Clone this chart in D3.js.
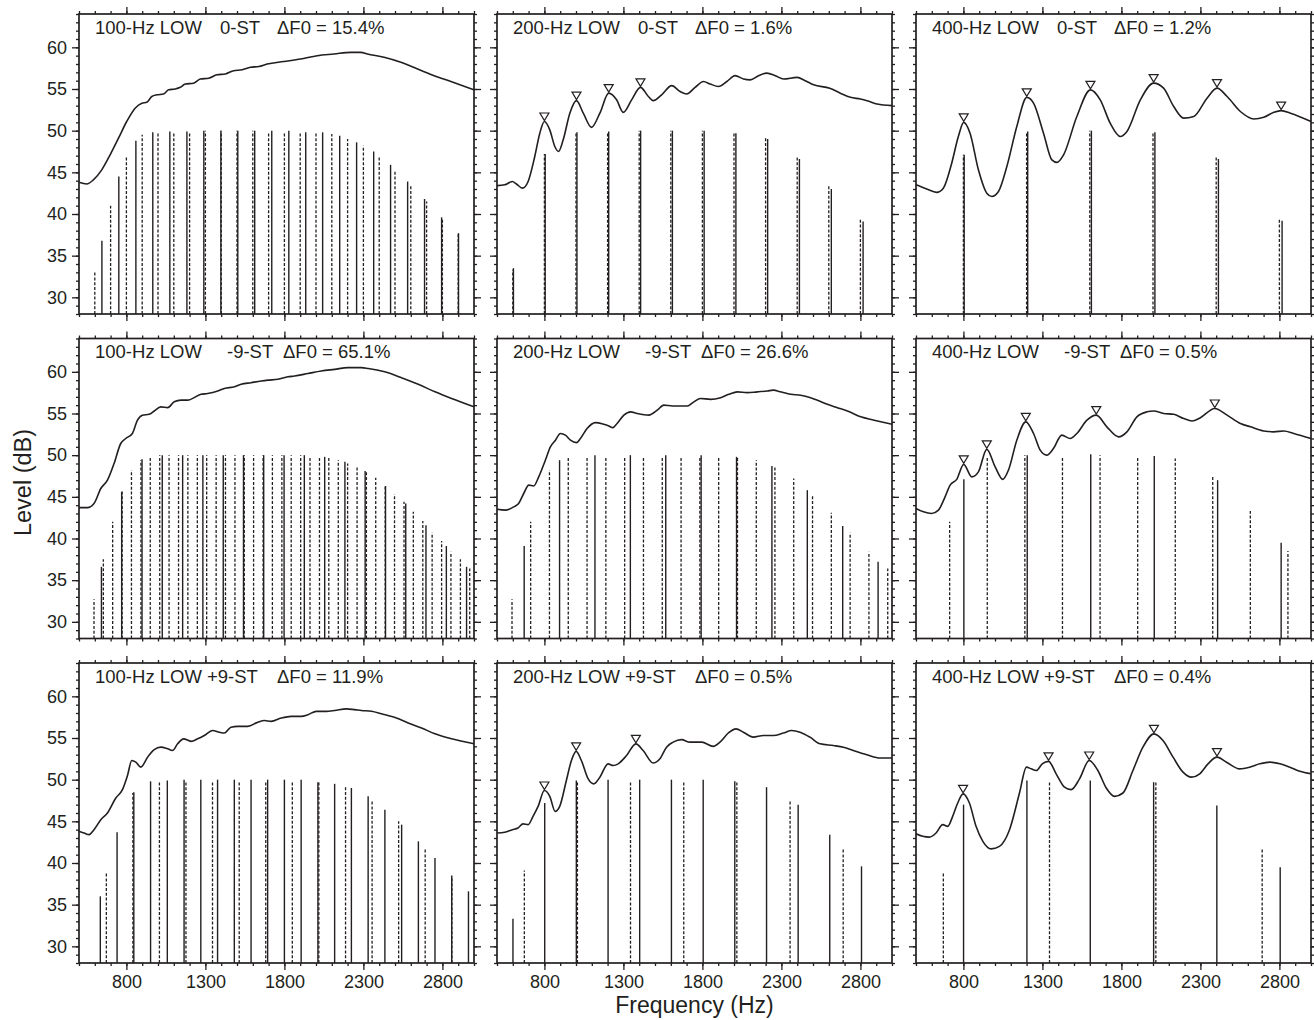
<!DOCTYPE html>
<html>
<head>
<meta charset="utf-8">
<script src="https://cdn.jsdelivr.net/npm/d3@7"></script>
<style>
  body { margin: 0; background: #fff; }
  svg { font-family: "Liberation Sans", Arial, Helvetica, sans-serif; }
</style>
</head>
<body>
<div id="chart"></div>
<script>
// ---- data: [frequency Hz, level dB] ----

// row 1: 0-ST
var p1Solid = [[645,36.8],[752,44.5],[860,48.8],[967,49.8],[1075,49.9],[1183,49.9],[1290,50],[1398,50],[1505,50],[1612,50],[1720,50],[1828,50],[1935,49.8],[2042,49.8],[2150,49.4],[2257,48.6],[2365,47.5],[2472,45.9],[2580,43.9],[2687,41.8],[2795,39.6],[2902,37.7]]
var p1Dashed = [[600,33.0],[700,41.0],[800,46.9],[900,49.5],[1000,49.8],[1100,49.8],[1200,49.8],[1300,50],[1400,50],[1500,50],[1600,50],[1700,49.8],[1800,49.8],[1900,49.8],[2000,49.8],[2100,49.6],[2200,49.0],[2300,48.2],[2400,46.9],[2500,45.2],[2600,43.5],[2700,41.5],[2800,39.5],[2900,37.6]]
var p1Curve = [[500,43.8],[549,43.6],[591,44.1],[644,45.3],[697,47.1],[750,49.1],[802,51.1],[855,52.7],[898,53.3],[929,53.4],[961,54.1],[993,54.3],[1035,54.4],[1067,54.9],[1109,55.0],[1141,55.2],[1173,55.6],[1225,55.7],[1268,56.2],[1321,56.3],[1373,56.7],[1426,56.8],[1479,57.2],[1532,57.3],[1585,57.6],[1638,57.7],[1691,58.0],[1796,58.3],[1902,58.6],[2008,59.0],[2114,59.2],[2220,59.4],[2283,59.4],[2325,59.2],[2431,58.8],[2537,58.2],[2643,57.4],[2748,56.6],[2854,55.9],[3000,54.9]]
var p1Peaks = []

var p2Solid = [[604,33.5],[805,47.2],[1006,49.8],[1207,49.9],[1409,50],[1610,50],[1811,50],[2012,49.7],[2213,49.0],[2414,46.6],[2616,43.0],[2817,39.1]]
var p2Dashed = [[600,33.3],[800,47.2],[1000,49.8],[1200,49.9],[1400,50],[1600,50],[1800,50],[2000,49.8],[2200,49.1],[2400,46.9],[2600,43.4],[2800,39.5]]
var p2Curve = [[500,43.4],[549,43.5],[597,43.9],[623,43.6],[661,43.1],[697,43.9],[739,46.9],[771,49.7],[800,51.1],[834,50.1],[866,48.1],[889,47.5],[919,48.9],[961,52.1],[1003,53.6],[1046,52.1],[1098,50.4],[1151,52.1],[1207,54.5],[1257,53.7],[1299,52.2],[1352,53.7],[1408,55.2],[1458,54.1],[1489,53.6],[1542,54.3],[1606,55.4],[1659,54.7],[1701,54.4],[1754,55.2],[1807,55.9],[1849,55.6],[1902,55.3],[1955,55.9],[2007,56.6],[2060,56.2],[2103,56.1],[2155,56.6],[2208,56.9],[2261,56.6],[2314,56.2],[2399,56.4],[2451,56.0],[2504,55.5],[2606,55.1],[2673,54.5],[2737,54.0],[2800,53.8],[2842,53.6],[2906,53.2],[3000,53.0]]
var p2Peaks = [[800,51.1],[1003,53.6],[1207,54.5],[1408,55.2]]

var p3Solid = [[805,47.1],[1207,49.9],[1610,50],[2012,49.8],[2414,46.6],[2817,39.2]]
var p3Dashed = [[800,47.1],[1200,49.9],[1600,50],[2000,49.8],[2400,46.9],[2800,39.5]]
var p3Curve = [[500,43.5],[568,43.0],[631,42.6],[673,43.1],[726,46.1],[768,49.3],[802,51.0],[842,49.7],[895,45.3],[948,42.5],[980,42.1],[1022,42.7],[1075,45.7],[1138,50.5],[1201,54.0],[1244,53.3],[1307,49.7],[1360,46.5],[1392,46.2],[1434,47.1],[1518,51.7],[1604,54.9],[1666,53.7],[1729,50.9],[1793,49.3],[1835,49.9],[1920,53.7],[2004,55.7],[2067,55.1],[2131,52.9],[2194,51.5],[2258,51.7],[2342,53.9],[2405,55.1],[2469,54.1],[2553,52.3],[2638,51.4],[2701,51.6],[2765,52.2],[2811,52.4],[2870,52.1],[3000,51.1]]
var p3Peaks = [[802,51.0],[1201,54.0],[1604,54.9],[2004,55.7],[2405,55.1],[2811,52.4]]

// row 2: -9-ST
var p4Solid = [[642,36.6],[770,45.6],[899,49.5],[1027,50],[1156,50],[1284,50],[1413,50],[1541,50],[1669,50],[1798,50],[1926,50],[2055,49.8],[2183,49.2],[2311,48.1],[2440,46.3],[2568,44.2],[2696,41.6],[2825,39.1],[2953,36.6]]
var p4Dashed = [[595,32.7],[654,37.5],[713,42.0],[773,45.8],[832,48.2],[892,49.4],[951,49.8],[1011,50],[1070,50],[1130,50],[1189,50],[1249,50],[1308,50],[1368,50],[1427,50],[1487,50],[1546,50],[1605,50],[1665,50],[1724,50],[1784,50],[1843,50],[1903,50],[1962,49.9],[2022,49.9],[2081,49.7],[2141,49.4],[2200,49.0],[2260,48.7],[2319,48.0],[2378,47.3],[2438,46.4],[2497,45.3],[2557,44.4],[2616,43.2],[2676,42.1],[2735,40.7],[2795,39.7],[2854,38.4],[2914,37.5],[2973,36.4]]
var p4Curve = [[500,43.7],[553,43.7],[595,44.2],[638,46.0],[680,47.0],[722,49.0],[764,51.4],[796,52.0],[838,52.6],[870,54.2],[902,54.8],[944,54.9],[976,55.3],[1018,55.8],[1061,55.7],[1103,56.4],[1145,56.6],[1187,56.6],[1272,57.3],[1314,57.4],[1378,57.7],[1420,58.0],[1484,58.2],[1526,58.5],[1589,58.7],[1653,58.9],[1695,59.0],[1759,59.1],[1822,59.4],[1864,59.5],[1949,59.8],[2033,60.1],[2118,60.3],[2203,60.5],[2287,60.5],[2330,60.4],[2435,60.0],[2541,59.3],[2647,58.5],[2753,57.6],[2858,56.8],[3000,55.8]]
var p4Peaks = []

var p5Solid = [[672,39.1],[896,49.4],[1120,50],[1344,50],[1568,50],[1792,50],[2016,49.8],[2240,48.7],[2464,45.8],[2688,41.5],[2912,37.2]]
var p5Dashed = [[595,32.7],[713,42.0],[832,48.2],[951,49.8],[1070,49.8],[1189,49.8],[1308,49.8],[1427,49.8],[1546,49.8],[1665,49.8],[1784,49.9],[1903,49.8],[2022,49.8],[2141,49.4],[2259,48.6],[2378,47.2],[2497,45.2],[2616,43.1],[2735,40.7],[2854,38.4],[2973,36.4]]
var p5Curve = [[500,43.5],[553,43.4],[606,43.8],[637,44.2],[669,45.4],[701,46.4],[732,46.3],[764,47.4],[806,49.4],[838,51.0],[870,51.8],[901,52.6],[933,52.4],[965,51.8],[1003,51.5],[1028,52.0],[1070,53.2],[1123,53.9],[1176,53.7],[1208,53.5],[1233,53.3],[1260,53.8],[1303,54.8],[1345,55.2],[1387,55.0],[1461,54.8],[1514,55.4],[1556,56.0],[1609,55.9],[1704,55.9],[1746,56.4],[1788,56.8],[1852,56.7],[1915,56.9],[1968,57.3],[2021,57.6],[2084,57.5],[2147,57.6],[2211,57.7],[2249,57.8],[2295,57.6],[2359,57.3],[2422,57.2],[2485,56.9],[2528,56.6],[2591,56.1],[2654,55.7],[2718,55.3],[2802,54.6],[2887,54.2],[3000,53.7]]
var p5Peaks = []

var p6Solid = [[803,47.1],[1204,50],[1606,50.1],[2008,49.9],[2409,47.0],[2811,39.5]]
var p6Dashed = [[713,42.0],[951,49.8],[1189,50],[1427,49.9],[1665,50],[1903,49.9],[2141,49.6],[2378,47.4],[2616,43.3],[2854,38.5]]
var p6Curve = [[500,43.6],[547,43.2],[599,43.0],[642,43.4],[684,45.0],[716,46.4],[758,47.1],[802,48.9],[853,47.4],[895,48.0],[948,50.7],[1001,48.6],[1049,47.1],[1085,48.2],[1138,51.8],[1195,54.0],[1244,52.6],[1286,50.6],[1328,50.0],[1370,50.8],[1423,52.4],[1476,52.0],[1518,52.6],[1582,54.2],[1641,54.8],[1708,53.4],[1782,52.2],[1835,52.8],[1898,54.6],[1962,55.2],[2004,55.3],[2067,55.0],[2131,54.9],[2194,54.4],[2247,54.1],[2300,54.5],[2391,55.6],[2469,54.8],[2553,53.8],[2617,53.4],[2701,52.9],[2765,52.8],[2828,52.9],[2891,52.6],[3000,52.0]]
var p6Peaks = [[802,48.9],[948,50.7],[1195,54.0],[1641,54.8],[2391,55.6]]

// row 3: +9-ST
var p7Solid = [[635,36.0],[741,43.7],[847,48.5],[953,49.8],[1059,49.9],[1165,50],[1271,50],[1377,50],[1483,50],[1589,50],[1694,50],[1800,50],[1906,50],[2012,49.7],[2118,49.5],[2224,49.0],[2330,48.0],[2436,46.4],[2542,44.6],[2648,42.6],[2753,40.6],[2859,38.5],[2965,36.6]]
var p7Dashed = [[673,38.9],[841,48.4],[1009,49.7],[1177,49.8],[1345,49.8],[1514,49.8],[1682,49.8],[1850,49.8],[2018,49.7],[2187,49.1],[2355,47.4],[2523,45.0],[2691,41.7],[2860,38.4]]
var p7Curve = [[500,43.8],[532,43.6],[564,43.4],[595,44.0],[638,45.2],[680,46.0],[733,47.8],[775,48.8],[807,50.5],[834,52.3],[860,52.1],[891,51.5],[934,52.7],[976,53.6],[1018,53.9],[1061,53.7],[1092,53.5],[1124,54.3],[1162,54.9],[1209,54.6],[1251,54.9],[1293,55.3],[1346,55.9],[1388,55.7],[1420,55.6],[1462,56.3],[1505,56.4],[1568,56.4],[1632,56.9],[1674,57.1],[1716,57.0],[1780,57.4],[1843,57.6],[1907,57.6],[1949,57.8],[2002,58.2],[2065,58.2],[2118,58.3],[2192,58.5],[2245,58.4],[2287,58.3],[2351,58.2],[2414,57.9],[2509,57.4],[2583,56.8],[2668,56.2],[2753,55.5],[2858,54.9],[3000,54.3]]
var p7Peaks = []

var p8Solid = [[601,33.3],[802,47.2],[1002,49.9],[1203,50],[1403,50],[1604,50],[1805,50],[2005,49.8],[2206,49.1],[2406,47.0],[2606,43.4],[2807,39.6]]
var p8Dashed = [[673,39.1],[1009,49.8],[1345,49.8],[1682,49.8],[2018,49.8],[2355,47.6],[2691,41.8]]
var p8Curve = [[500,43.6],[549,43.7],[597,44.0],[633,44.2],[665,44.7],[697,44.6],[728,45.6],[760,46.8],[800,48.7],[834,48.0],[868,46.2],[897,46.8],[939,49.9],[971,52.3],[1001,53.4],[1034,52.3],[1077,50.1],[1113,49.5],[1151,50.3],[1203,51.9],[1235,51.7],[1267,51.9],[1320,52.9],[1379,54.3],[1425,53.5],[1489,52.0],[1531,52.5],[1573,53.9],[1615,54.5],[1668,54.8],[1721,54.5],[1795,54.5],[1869,54.0],[1911,54.5],[1964,55.6],[2013,56.1],[2059,55.7],[2122,55.1],[2186,55.3],[2249,55.3],[2313,55.6],[2365,55.9],[2418,55.7],[2481,55.1],[2545,54.3],[2629,54.1],[2693,53.9],[2756,53.5],[2841,53.0],[2925,52.6],[3000,52.6]]
var p8Peaks = [[800,48.7],[1001,53.4],[1379,54.3]]

var p9Solid = [[801,47.0],[1202,49.9],[1603,49.9],[2004,49.7],[2404,46.9],[2805,39.5]]
var p9Dashed = [[673,38.9],[1345,49.7],[2018,49.7],[2691,41.7]]
var p9Curve = [[500,43.5],[542,43.2],[585,43.1],[627,43.6],[669,44.6],[701,44.4],[732,45.6],[764,47.2],[798,48.3],[838,47.2],[880,44.4],[923,42.6],[975,41.7],[1028,42.0],[1092,44.0],[1155,48.4],[1199,51.5],[1229,51.3],[1261,51.1],[1299,51.9],[1339,52.2],[1387,50.7],[1440,49.1],[1482,48.8],[1535,50.1],[1596,52.3],[1651,51.1],[1704,49.0],[1757,48.0],[1810,48.4],[1873,51.1],[1936,53.9],[2006,55.5],[2063,54.7],[2127,52.7],[2190,50.9],[2243,50.3],[2296,50.7],[2348,51.9],[2405,52.7],[2465,52.1],[2549,51.3],[2612,51.5],[2676,51.9],[2739,52.1],[2803,51.9],[2866,51.5],[2929,51.0],[3000,50.7]]
var p9Peaks = [[798,48.3],[1339,52.2],[1596,52.3],[2006,55.5],[2405,52.7]]

// labels
var lowLabels = ['100-Hz LOW', '200-Hz LOW', '400-Hz LOW']
var stLabels = ['0-ST', '-9-ST', '+9-ST']
var dF0Labels = ['15.4%', '1.6%', '1.2%', '65.1%', '26.6%', '0.5%', '11.9%', '0.5%', '0.4%']
var xMajorTicks = [800, 1300, 1800, 2300, 2800]
var yMajorTicks = [30, 35, 40, 45, 50, 55, 60]

// ---- layout ----
var width = 1314, height = 1020
var colX = [79, 497, 916], rowY = [14, 338.5, 663]
var pw = 395, ph = 300
var ink = '#231f20'
// title column offsets per row (middle field, dF0 field)
var stOffset = [141, 148, 128]
var dfOffset = [198, 204, 198]

var panels = [
  {solid: p1Solid, dashed: p1Dashed, curve: p1Curve, peaks: p1Peaks},
  {solid: p2Solid, dashed: p2Dashed, curve: p2Curve, peaks: p2Peaks},
  {solid: p3Solid, dashed: p3Dashed, curve: p3Curve, peaks: p3Peaks},
  {solid: p4Solid, dashed: p4Dashed, curve: p4Curve, peaks: p4Peaks},
  {solid: p5Solid, dashed: p5Dashed, curve: p5Curve, peaks: p5Peaks},
  {solid: p6Solid, dashed: p6Dashed, curve: p6Curve, peaks: p6Peaks},
  {solid: p7Solid, dashed: p7Dashed, curve: p7Curve, peaks: p7Peaks},
  {solid: p8Solid, dashed: p8Dashed, curve: p8Curve, peaks: p8Peaks},
  {solid: p9Solid, dashed: p9Dashed, curve: p9Curve, peaks: p9Peaks}
]

var svg = d3.select('#chart')
  .append('svg')
  .attr('width', width)
  .attr('height', height)

var xScale = d3.scaleLinear().domain([500, 3000]).range([0, pw])
var yScale = d3.scaleLinear().domain([28, 64]).range([ph, 0])

var xMinor = d3.range(500, 3001, 100)
var yMinor = d3.range(28, 65, 1)

var line = d3.line()
  .x(d => xScale(d[0]))
  .y(d => yScale(d[1]))
  .curve(d3.curveMonotoneX)

function styleAxis(sel) {
  sel.attr('font-family', null).attr('font-size', null)
  sel.select('.domain').remove()
  sel.selectAll('.tick line').attr('stroke', ink).attr('stroke-width', 1.3)
  sel.selectAll('.tick text').attr('fill', ink).style('font-size', '18px')
}

function addAxis(g, axisFn, scale, transform, minor, major, showLabels) {
  g.append('g')
    .attr('transform', transform)
    .call(axisFn(scale).tickValues(minor).tickSize(3).tickFormat(''))
    .call(styleAxis)
  g.append('g')
    .attr('transform', transform)
    .call(axisFn(scale).tickValues(major).tickSize(7).tickPadding(showLabels ? 5 : 0)
      .tickFormat(showLabels ? d3.format('d') : ''))
    .call(styleAxis)
}

panels.forEach(function(p, i) {
  var row = Math.floor(i / 3), col = i % 3
  var g = svg.append('g')
    .attr('transform', `translate(${colX[col]},${rowY[row]})`)

  // axes, ticks pointing outward on all four sides
  addAxis(g, d3.axisLeft, yScale, 'translate(0,0)', yMinor, yMajorTicks, col === 0)
  addAxis(g, d3.axisRight, yScale, `translate(${pw},0)`, yMinor, yMajorTicks, false)
  addAxis(g, d3.axisTop, xScale, 'translate(0,0)', xMinor, xMajorTicks, false)
  addAxis(g, d3.axisBottom, xScale, `translate(0,${ph})`, xMinor, xMajorTicks, row === 2)

  // harmonic lines
  g.append('g').selectAll('line')
    .data(p.solid)
    .join('line')
    .attr('x1', d => xScale(d[0]))
    .attr('x2', d => xScale(d[0]))
    .attr('y1', ph)
    .attr('y2', d => yScale(d[1]))
    .attr('stroke', ink)
    .attr('stroke-width', 1.4)

  g.append('g').selectAll('line')
    .data(p.dashed)
    .join('line')
    .attr('x1', d => xScale(d[0]))
    .attr('x2', d => xScale(d[0]))
    .attr('y1', ph)
    .attr('y2', d => yScale(d[1]))
    .attr('stroke', ink)
    .attr('stroke-width', 1.3)
    .attr('stroke-dasharray', '3,1.8')

  // spectrum curve
  g.append('path')
    .datum(p.curve)
    .attr('d', line)
    .attr('fill', 'none')
    .attr('stroke', ink)
    .attr('stroke-width', 1.6)

  // peak markers (open down-triangles)
  g.append('g').selectAll('path')
    .data(p.peaks)
    .join('path')
    .attr('d', d => {
      var cx = xScale(d[0]), cy = yScale(d[1])
      return `M${cx - 4.5},${cy - 8.5}L${cx + 4.5},${cy - 8.5}L${cx},${cy - 1}Z`
    })
    .attr('fill', '#fff')
    .attr('stroke', ink)
    .attr('stroke-width', 1.2)

  // frame
  g.append('rect')
    .attr('width', pw)
    .attr('height', ph)
    .attr('fill', 'none')
    .attr('stroke', ink)
    .attr('stroke-width', 1.7)

  // panel title
  var t = g.append('text')
    .attr('y', 19.5)
    .attr('fill', ink)
    .style('font-size', '18.5px')
  t.append('tspan').attr('x', 16).text(lowLabels[col])
  t.append('tspan').attr('x', stOffset[row]).text(stLabels[row])
  t.append('tspan').attr('x', dfOffset[row]).text('\u0394F0 = ' + dF0Labels[i])
})

// axis titles
svg.append('text')
  .attr('transform', `translate(31,${rowY[1] + ph / 2 - 6}) rotate(-90)`)
  .attr('text-anchor', 'middle')
  .attr('fill', ink)
  .style('font-size', '23.5px')
  .text('Level (dB)')

svg.append('text')
  .attr('x', colX[1] + pw / 2)
  .attr('y', 1013)
  .attr('text-anchor', 'middle')
  .attr('fill', ink)
  .style('font-size', '23px')
  .text('Frequency (Hz)')
</script>
</body>
</html>
